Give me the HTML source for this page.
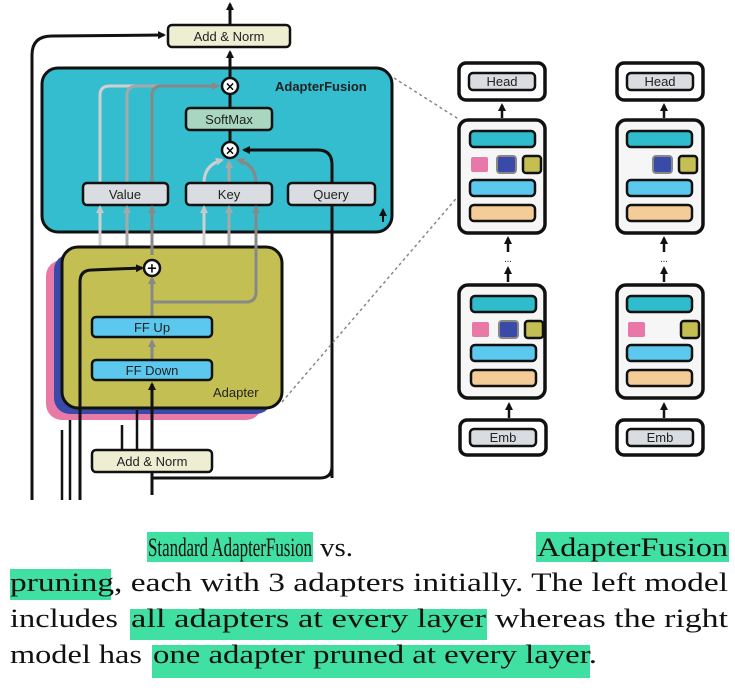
<!DOCTYPE html>
<html><head><meta charset="utf-8"><style>
html,body{margin:0;padding:0;background:#fff;width:735px;height:695px;overflow:hidden}
svg{display:block}
.lb{font-family:"Liberation Sans",sans-serif;font-size:13px;fill:#222}
.cap{font-family:"Liberation Serif",serif;font-size:26px;fill:#111}
</style></head><body>
<svg width="735" height="695" viewBox="0 0 735 695" xmlns="http://www.w3.org/2000/svg">
<defs>
<marker id="ab" markerWidth="8" markerHeight="8" refX="6" refY="4" orient="auto" markerUnits="userSpaceOnUse"><path d="M0,0 L8,4 L0,8 Z" fill="#111"/></marker>
<marker id="ag" markerWidth="8" markerHeight="8" refX="6" refY="4" orient="auto" markerUnits="userSpaceOnUse"><path d="M0,0 L8,4 L0,8 Z" fill="#888"/></marker>
<marker id="al" markerWidth="8" markerHeight="8" refX="6" refY="4" orient="auto" markerUnits="userSpaceOnUse"><path d="M0,0 L8,4 L0,8 Z" fill="#c8c8c8"/></marker>
<marker id="am" markerWidth="8" markerHeight="8" refX="6" refY="4" orient="auto" markerUnits="userSpaceOnUse"><path d="M0,0 L8,4 L0,8 Z" fill="#a8a8a8"/></marker>
</defs>

<path d="M32,500 L32,55 Q32,36 52,36 L164,35" fill="none" stroke="#111" stroke-width="3" marker-end="url(#ab)"/>
<line x1="230" y1="25" x2="230" y2="4" stroke="#111" stroke-width="3" marker-end="url(#ab)"/>
<rect x="168" y="25" width="122" height="22" rx="4" fill="#eeeed2" stroke="#111" stroke-width="2.5"/>
<text class="lb" x="229" y="41" text-anchor="middle">Add &amp; Norm</text>

<rect x="42" y="68" width="350" height="164" rx="16" fill="#34bccf" stroke="#111" stroke-width="3"/>
<text class="lb" x="275" y="91" font-size="14" fill="#1a3a55" font-weight="bold">AdapterFusion</text>
<line x1="230" y1="78" x2="230" y2="52" stroke="#111" stroke-width="3" marker-end="url(#ab)"/>
<line x1="230" y1="108" x2="230" y2="94" stroke="#111" stroke-width="3"/>
<line x1="230" y1="130" x2="230" y2="142" stroke="#111" stroke-width="3"/>
<path d="M100,183 L100,95 Q100,86 110,86 L210,86" fill="none" stroke="#d0d0d0" stroke-width="3"/>
<path d="M127,183 L127,95 Q127,86 137,86 L210,86" fill="none" stroke="#a8a8a8" stroke-width="3"/>
<path d="M152,183 L152,96 Q152,86 162,86 L218,86" fill="none" stroke="#888" stroke-width="3" marker-end="url(#ag)"/>
<path d="M204,183 Q204,165 222,160" fill="none" stroke="#d0d0d0" stroke-width="3" marker-end="url(#al)"/>
<line x1="229" y1="183" x2="229" y2="162" stroke="#a8a8a8" stroke-width="3" marker-end="url(#am)"/>
<path d="M256,183 Q256,165 238,160" fill="none" stroke="#888" stroke-width="3" marker-end="url(#ag)"/>
<path d="M332,478 L332,165 Q332,150 318,150 L244,150" fill="none" stroke="#111" stroke-width="3" marker-end="url(#ab)"/>
<circle cx="230" cy="86" r="8" fill="#fff" stroke="#111" stroke-width="2.5"/>
<text x="230" y="90.5" text-anchor="middle" font-family="DejaVu Sans" font-size="12" font-weight="bold">×</text>
<circle cx="230" cy="150" r="8" fill="#fff" stroke="#111" stroke-width="2.5"/>
<text x="230" y="154.5" text-anchor="middle" font-family="DejaVu Sans" font-size="12" font-weight="bold">×</text>
<rect x="186" y="108" width="86" height="22" rx="4" fill="#a9d6bf" stroke="#111" stroke-width="2.5"/>
<text class="lb" x="229" y="124" text-anchor="middle">SoftMax</text>
<rect x="83" y="183" width="85" height="22" rx="4" fill="#d9dde1" stroke="#111" stroke-width="2.5"/>
<text class="lb" x="125" y="199" text-anchor="middle">Value</text>
<rect x="186" y="183" width="86" height="22" rx="4" fill="#d9dde1" stroke="#111" stroke-width="2.5"/>
<text class="lb" x="229" y="199" text-anchor="middle">Key</text>
<rect x="288" y="183" width="87" height="22" rx="4" fill="#d9dde1" stroke="#111" stroke-width="2.5"/>
<text class="lb" x="331" y="199" text-anchor="middle">Query</text>
<line x1="383" y1="222" x2="383" y2="210" stroke="#111" stroke-width="2" marker-end="url(#ab)"/>
<line x1="100" y1="250" x2="100" y2="207" stroke="#d0d0d0" stroke-width="3" marker-end="url(#al)"/>
<line x1="127" y1="250" x2="127" y2="207" stroke="#a8a8a8" stroke-width="3" marker-end="url(#am)"/>
<line x1="152" y1="250" x2="152" y2="207" stroke="#888" stroke-width="3" marker-end="url(#ag)"/>
<line x1="204" y1="250" x2="204" y2="207" stroke="#d0d0d0" stroke-width="3" marker-end="url(#al)"/>
<line x1="229" y1="250" x2="229" y2="207" stroke="#a8a8a8" stroke-width="3" marker-end="url(#am)"/>
<line x1="256" y1="250" x2="256" y2="207" stroke="#888" stroke-width="3" marker-end="url(#ag)"/>

<rect x="46" y="260" width="216" height="160" rx="16" fill="#e87aa8"/>
<rect x="54" y="254" width="218" height="160" rx="16" fill="#3a4aa8"/>
<rect x="62" y="247" width="220" height="161" rx="16" fill="#c4bf52" stroke="#111" stroke-width="3"/>
<text class="lb" x="213" y="397" font-size="14">Adapter</text>
<path d="M152,317 L152,278" stroke="#888" stroke-width="3" marker-end="url(#ag)"/>
<path d="M152,302 L246,302 Q256,302 256,292 L256,245" fill="none" stroke="#888" stroke-width="3"/>
<line x1="152" y1="255" x2="152" y2="245" stroke="#888" stroke-width="3"/>
<line x1="152" y1="360" x2="152" y2="341" stroke="#888" stroke-width="3" marker-end="url(#ag)"/>
<path d="M80,500 L80,282 Q80,270 92,270 L142,268" fill="none" stroke="#111" stroke-width="3" marker-end="url(#ab)"/>
<circle cx="152" cy="268" r="8" fill="#fff" stroke="#111" stroke-width="2.5"/>
<text x="152" y="272.5" text-anchor="middle" font-family="DejaVu Sans" font-size="13" font-weight="bold">+</text>
<rect x="92" y="317" width="120" height="20" rx="4" fill="#5cc8ee" stroke="#111" stroke-width="2.5"/>
<text class="lb" x="152" y="332" text-anchor="middle">FF Up</text>
<rect x="92" y="360" width="120" height="20" rx="4" fill="#5cc8ee" stroke="#111" stroke-width="2.5"/>
<text class="lb" x="152" y="375" text-anchor="middle">FF Down</text>
<line x1="152" y1="495" x2="152" y2="384" stroke="#111" stroke-width="3" marker-end="url(#ab)"/>
<path d="M152,478 L320,478 Q332,478 332,466" fill="none" stroke="#111" stroke-width="3"/>
<line x1="62" y1="430" x2="62" y2="500" stroke="#111" stroke-width="2.5"/>
<line x1="70" y1="420" x2="70" y2="500" stroke="#111" stroke-width="2.5"/>
<line x1="122" y1="425" x2="122" y2="450" stroke="#111" stroke-width="2.5"/>
<line x1="137" y1="410" x2="137" y2="450" stroke="#111" stroke-width="2.5"/>
<rect x="92" y="450" width="120" height="22" rx="4" fill="#eeeed2" stroke="#111" stroke-width="2.5"/>
<text class="lb" x="152" y="466" text-anchor="middle">Add &amp; Norm</text>

<line x1="394" y1="78" x2="460" y2="120" stroke="#888" stroke-width="1.5" stroke-dasharray="3,3"/>
<line x1="282" y1="402" x2="472" y2="180" stroke="#888" stroke-width="1.5" stroke-dasharray="3,3"/>

<g>
<rect x="459" y="63" width="86" height="37" rx="7" fill="#fff" stroke="#111" stroke-width="3.5"/>
<rect x="469" y="73" width="66" height="17" rx="4" fill="#d9dde1" stroke="#111" stroke-width="2.5"/>
<text class="lb" x="502" y="86" text-anchor="middle" font-size="12">Head</text>
<line x1="502" y1="118" x2="502" y2="105" stroke="#111" stroke-width="2.5" marker-end="url(#ab)"/>
<rect x="459" y="120" width="86" height="113" rx="9" fill="#f6f6f6" stroke="#111" stroke-width="3.5"/>
<rect x="470" y="131" width="65" height="16" rx="4" fill="#2fbccc" stroke="#111" stroke-width="2.5"/>
<rect x="471" y="157" width="17" height="15" rx="2" fill="#e878a8"/>
<rect x="497" y="156" width="19" height="17" rx="3" fill="#3a4aa8" stroke="#888" stroke-width="2"/>
<rect x="523" y="156" width="18" height="17" rx="3" fill="#c4bf52" stroke="#111" stroke-width="2.5"/>
<rect x="470" y="180" width="65" height="16" rx="4" fill="#5cc8ee" stroke="#111" stroke-width="2.5"/>
<rect x="470" y="205" width="65" height="16" rx="4" fill="#f4cc98" stroke="#111" stroke-width="2.5"/>
<line x1="508" y1="252" x2="508" y2="238" stroke="#111" stroke-width="2.5" marker-end="url(#ab)"/>
<text x="508" y="262" text-anchor="middle" font-size="10" fill="#333">...</text>
<line x1="508" y1="282" x2="508" y2="268" stroke="#111" stroke-width="2.5" marker-end="url(#ab)"/>
<rect x="459" y="285" width="86" height="113" rx="9" fill="#f6f6f6" stroke="#111" stroke-width="3.5"/>
<rect x="471" y="296" width="65" height="16" rx="4" fill="#2fbccc" stroke="#111" stroke-width="2.5"/>
<rect x="472" y="322" width="17" height="15" rx="2" fill="#e878a8"/>
<rect x="499" y="321" width="19" height="17" rx="3" fill="#3a4aa8" stroke="#888" stroke-width="2"/>
<rect x="525" y="321" width="18" height="17" rx="3" fill="#c4bf52" stroke="#111" stroke-width="2.5"/>
<rect x="471" y="345" width="65" height="16" rx="4" fill="#5cc8ee" stroke="#111" stroke-width="2.5"/>
<rect x="471" y="370" width="65" height="16" rx="4" fill="#f4cc98" stroke="#111" stroke-width="2.5"/>
<line x1="509" y1="418" x2="509" y2="404" stroke="#111" stroke-width="2.5" marker-end="url(#ab)"/>
<rect x="460" y="420" width="86" height="35" rx="7" fill="#fff" stroke="#111" stroke-width="3.5"/>
<rect x="470" y="429" width="66" height="17" rx="4" fill="#d9dde1" stroke="#111" stroke-width="2.5"/>
<text class="lb" x="503" y="442" text-anchor="middle" font-size="12">Emb</text>
</g>
<g>
<rect x="617" y="63" width="86" height="37" rx="7" fill="#fff" stroke="#111" stroke-width="3.5"/>
<rect x="627" y="73" width="66" height="17" rx="4" fill="#d9dde1" stroke="#111" stroke-width="2.5"/>
<text class="lb" x="660" y="86" text-anchor="middle" font-size="12">Head</text>
<line x1="664" y1="118" x2="664" y2="105" stroke="#111" stroke-width="2.5" marker-end="url(#ab)"/>
<rect x="617" y="120" width="86" height="113" rx="9" fill="#f6f6f6" stroke="#111" stroke-width="3.5"/>
<rect x="627" y="131" width="65" height="16" rx="4" fill="#2fbccc" stroke="#111" stroke-width="2.5"/>
<rect x="653" y="156" width="19" height="17" rx="3" fill="#3a4aa8" stroke="#888" stroke-width="2"/>
<rect x="679" y="156" width="18" height="17" rx="3" fill="#c4bf52" stroke="#111" stroke-width="2.5"/>
<rect x="627" y="180" width="65" height="16" rx="4" fill="#5cc8ee" stroke="#111" stroke-width="2.5"/>
<rect x="627" y="205" width="65" height="16" rx="4" fill="#f4cc98" stroke="#111" stroke-width="2.5"/>
<line x1="664" y1="252" x2="664" y2="238" stroke="#111" stroke-width="2.5" marker-end="url(#ab)"/>
<text x="664" y="262" text-anchor="middle" font-size="10" fill="#333">...</text>
<line x1="664" y1="282" x2="664" y2="268" stroke="#111" stroke-width="2.5" marker-end="url(#ab)"/>
<rect x="617" y="285" width="86" height="113" rx="9" fill="#f6f6f6" stroke="#111" stroke-width="3.5"/>
<rect x="627" y="296" width="65" height="16" rx="4" fill="#2fbccc" stroke="#111" stroke-width="2.5"/>
<rect x="628" y="322" width="17" height="15" rx="2" fill="#e878a8"/>
<rect x="681" y="321" width="18" height="17" rx="3" fill="#c4bf52" stroke="#111" stroke-width="2.5"/>
<rect x="627" y="345" width="65" height="16" rx="4" fill="#5cc8ee" stroke="#111" stroke-width="2.5"/>
<rect x="627" y="370" width="65" height="16" rx="4" fill="#f4cc98" stroke="#111" stroke-width="2.5"/>
<line x1="664" y1="418" x2="664" y2="404" stroke="#111" stroke-width="2.5" marker-end="url(#ab)"/>
<rect x="617" y="420" width="86" height="35" rx="7" fill="#fff" stroke="#111" stroke-width="3.5"/>
<rect x="627" y="429" width="66" height="17" rx="4" fill="#d9dde1" stroke="#111" stroke-width="2.5"/>
<text class="lb" x="660" y="442" text-anchor="middle" font-size="12">Emb</text>
</g>

<g fill="#40e0a2">
<rect x="147" y="532" width="166" height="30"/>
<rect x="536" y="532" width="193" height="30"/>
<rect x="10" y="569" width="101" height="31"/>
<rect x="130" y="609" width="357" height="31"/>
<rect x="152" y="645" width="438" height="33"/>
</g>
<text class="cap" x="148" y="556" textLength="164" lengthAdjust="spacingAndGlyphs">Standard AdapterFusion</text>
<text class="cap" x="320" y="556" textLength="33" lengthAdjust="spacingAndGlyphs">vs.</text>
<text class="cap" x="537" y="556" textLength="191" lengthAdjust="spacingAndGlyphs">AdapterFusion</text>
<text class="cap" x="10" y="591" textLength="718" lengthAdjust="spacingAndGlyphs">pruning, each with 3 adapters initially. The left model</text>
<text class="cap" x="10" y="627" textLength="108" lengthAdjust="spacingAndGlyphs">includes</text>
<text class="cap" x="131" y="627" textLength="355" lengthAdjust="spacingAndGlyphs">all adapters at every layer</text>
<text class="cap" x="495" y="627" textLength="233" lengthAdjust="spacingAndGlyphs">whereas the right</text>
<text class="cap" x="10" y="663" textLength="132" lengthAdjust="spacingAndGlyphs">model has</text>
<text class="cap" x="153" y="663" textLength="444" lengthAdjust="spacingAndGlyphs">one adapter pruned at every layer.</text>
</svg>
</body></html>
